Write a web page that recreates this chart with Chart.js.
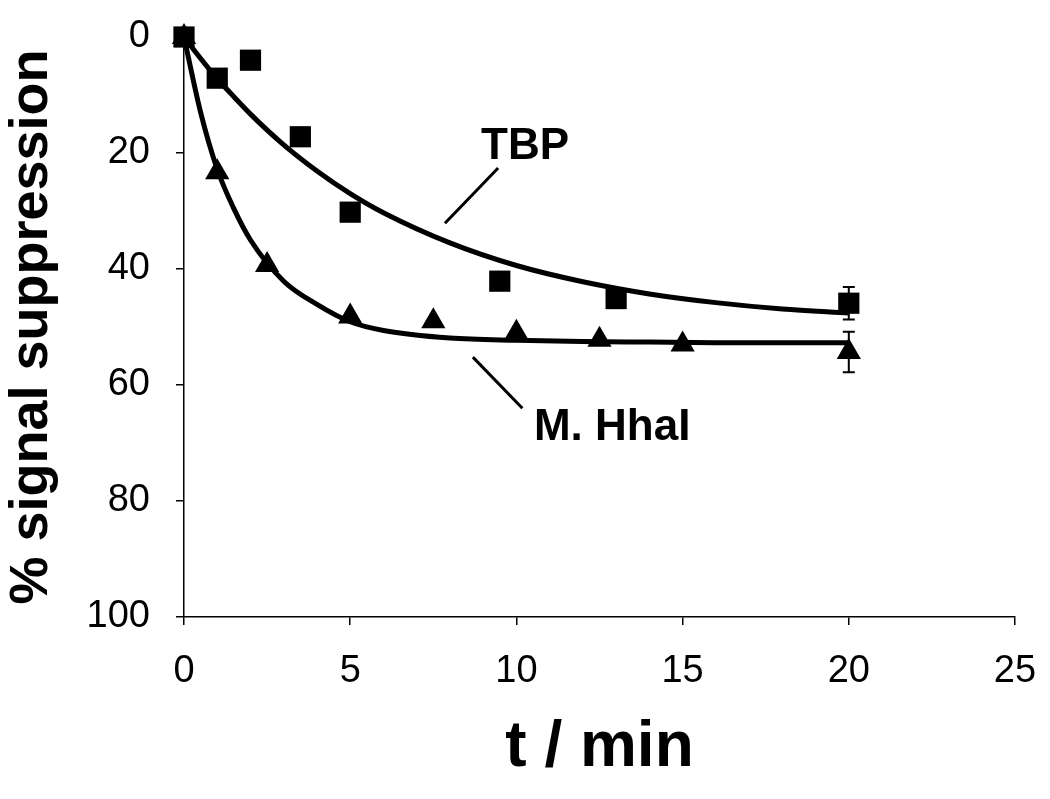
<!DOCTYPE html>
<html>
<head>
<meta charset="utf-8">
<script src="https://cdn.jsdelivr.net/npm/chart.js@4.4.1/dist/chart.umd.min.js"></script>
<style>
  html, body { margin: 0; background: #fff; }
  #wrap { width: 1050px; height: 799px; }
</style>
</head>
<body>
<div id="wrap"><canvas id="chart" width="1050" height="799"></canvas></div>
<script>
// measured points
const tbpT = [0, 1, 2, 3.5, 5, 9.5, 13, 20];
const tbpY = [0, 7.1, 4.0, 17.2, 30.2, 42.1, 45.1, 45.9];
const tbpErr = [0, 0, 0, 0, 0, 0, 0, 2.8];
const hhaT = [0, 1, 2.5, 5, 7.5, 10, 12.5, 15, 20];
const hhaY = [0, 23.3, 39.3, 48.2, 49.0, 51.0, 52.2, 53.0, 54.3];
const hhaErr = [0, 0, 0, 0, 0, 0, 0, 0, 3.5];

// fitted curves
const fitT = [0, 0.5, 1, 1.5, 2, 3, 4, 5, 6, 8, 10, 12, 14, 16, 18, 20];
const tbpFit = [0, 3.7, 7.2, 10.3, 13.3, 18.6, 23.1, 27.0, 30.3, 35.5, 39.4, 42.2, 44.3, 45.8, 46.9, 47.6];
const hhaFit = [0, 13.0, 22.8, 29.6, 35.0, 42.1, 46.1, 49.1, 50.6, 51.9, 52.3, 52.5, 52.6, 52.7, 52.7, 52.7];

// labels with their leader lines
const labelText = ['TBP', 'M. HhaI'];
const labelX = [10.26, 12.88];
const labelY = [19.0, 67.4];
const tbpLeaderX = [9.45, 7.85];
const tbpLeaderY = [22.6, 32.1];
const hhaLeaderX = [8.69, 10.18];
const hhaLeaderY = [55.2, 64.0];

const xTicks = [0, 5, 10, 15, 20, 25];
const yTicks = [0, 20, 40, 60, 80, 100];

const FONT = '"Liberation Sans", Arial, Helvetica, sans-serif';
const toPts = (xs, ys) => xs.map((x, i) => ({ x, y: ys[i] }));

const extrasPlugin = {
    id: 'extras',
    afterDatasetsDraw(chart) {
        const { ctx, scales: { x, y } } = chart;
        ctx.save();
        ctx.strokeStyle = '#000';
        ctx.lineWidth = 2;
        const drawErr = (ts, vs, es) => {
            ts.forEach((t, i) => {
                if (!es[i]) return;
                const px = x.getPixelForValue(t);
                const top = y.getPixelForValue(vs[i] - es[i]);
                const bot = y.getPixelForValue(vs[i] + es[i]);
                ctx.beginPath();
                ctx.moveTo(px, top); ctx.lineTo(px, bot);
                ctx.moveTo(px - 6, top); ctx.lineTo(px + 6, top);
                ctx.moveTo(px - 6, bot); ctx.lineTo(px + 6, bot);
                ctx.stroke();
            });
        };
        drawErr(tbpT, tbpY, tbpErr);
        drawErr(hhaT, hhaY, hhaErr);

        ctx.fillStyle = '#000';
        ctx.font = 'bold 44px ' + FONT;
        ctx.textAlign = 'center';
        ctx.textBaseline = 'middle';
        labelText.forEach((txt, i) => {
            ctx.fillText(txt, x.getPixelForValue(labelX[i]), y.getPixelForValue(labelY[i]));
        });
        ctx.restore();
    }
};

const lineDs = (data, width) => ({
    data, showLine: true, borderColor: '#000', borderWidth: width,
    pointRadius: 0, pointHoverRadius: 0, cubicInterpolationMode: 'monotone', clip: false
});

new Chart(document.getElementById('chart'), {
    type: 'scatter',
    data: {
        datasets: [
            lineDs(toPts(fitT, tbpFit), 5),
            lineDs(toPts(fitT, hhaFit), 5),
            lineDs(toPts(tbpLeaderX, tbpLeaderY), 3),
            lineDs(toPts(hhaLeaderX, hhaLeaderY), 3),
            {
                data: toPts(tbpT, tbpY), pointStyle: 'rect', pointRadius: 15,
                backgroundColor: '#000', borderColor: '#000', borderWidth: 0, clip: false
            },
            {
                data: toPts(hhaT, hhaY), pointStyle: 'triangle', pointRadius: 14,
                backgroundColor: '#000', borderColor: '#000', borderWidth: 0, clip: false
            }
        ]
    },
    options: {
        responsive: false,
        animation: false,
        layout: { padding: { top: 37, right: 35, left: 0, bottom: 0 } },
        plugins: { legend: { display: false }, tooltip: { enabled: false } },
        scales: {
            x: {
                type: 'linear', min: 0, max: 25,
                afterBuildTicks: s => { s.ticks = xTicks.map(v => ({ value: v })); },
                afterFit: s => { s.height = 182; s.paddingLeft = 0; s.paddingRight = 0; },
                border: { display: true, color: '#000', width: 1.5 },
                grid: { drawOnChartArea: false, drawTicks: true, tickLength: 8, color: '#000', lineWidth: 1.5 },
                ticks: { color: '#000', padding: 24, maxRotation: 0, font: { family: FONT, size: 38 } },
                title: {
                    display: true, text: 't / min', color: '#000',
                    font: { family: FONT, size: 64, weight: 'bold' },
                    padding: { top: 0, bottom: 12 }
                }
            },
            y: {
                type: 'linear', min: 0, max: 100, reverse: true,
                afterBuildTicks: s => { s.ticks = yTicks.map(v => ({ value: v })); },
                afterFit: s => { s.width = 184; s.paddingTop = 0; s.paddingBottom = 0; },
                border: { display: true, color: '#000', width: 1.5 },
                grid: { drawOnChartArea: false, drawTicks: true, tickLength: 8, color: '#000', lineWidth: 1.5 },
                ticks: { color: '#000', padding: 26, font: { family: FONT, size: 38 } },
                title: {
                    display: true, text: '% signal suppression', color: '#000',
                    font: { family: FONT, size: 54, weight: 'bold' },
                    padding: { top: 0, bottom: 0 }
                }
            }
        }
    },
    plugins: [extrasPlugin]
});
</script>
</body>
</html>
